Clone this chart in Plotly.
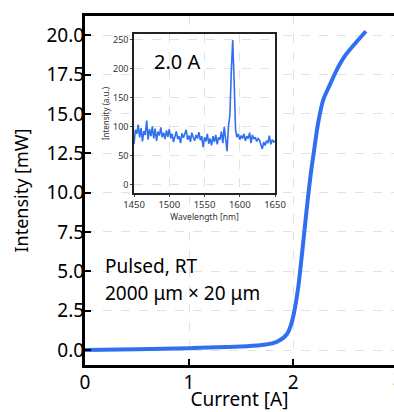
import plotly.graph_objects as go

# Main L-I data
current = [0, 0.5, 1.0, 1.5, 1.7, 1.8, 1.88, 1.94, 1.98, 2.01, 2.05, 2.10, 2.14, 2.17,
           2.20, 2.24, 2.29, 2.35, 2.42, 2.50, 2.60, 2.70]
power = [0, 0.05, 0.12, 0.22, 0.32, 0.42, 0.65, 1.0, 1.6, 2.4, 4.0, 7.0, 9.5, 11.2,
         12.6, 14.4, 15.9, 16.8, 17.8, 18.7, 19.5, 20.25]

# Inset spectrum data
wavelength = list(range(1450, 1652, 2))
spectrum = [70, 95, 88, 104, 82, 98, 75, 93, 86, 111, 78, 96, 84, 101, 80, 97, 76, 92, 85, 99,
            82, 90, 79, 94, 83, 96, 80, 88, 74, 86, 92, 79, 84, 72, 89, 81, 87, 95, 78, 85,
            74, 90, 82, 76, 86, 80, 91, 77, 84, 65, 82, 75, 88, 71, 80, 68, 84, 74, 86, 70,
            82, 78, 92, 72, 100, 80, 58, 102, 120, 195, 250, 180, 95, 82, 88, 78, 85, 80, 88, 76,
            84, 80, 90, 72, 86, 79, 82, 75, 80, 77, 70, 62, 74, 68, 76, 72, 85, 70, 78, 74, 76]

main_ticks_y = [0.0, 2.5, 5.0, 7.5, 10.0, 12.5, 15.0, 17.5, 20.0]
main_ticks_x = [0, 1, 2, 3]
inset_ticks_x = [1450, 1500, 1550, 1600, 1650]
inset_ticks_y = [0, 50, 100, 150, 200, 250]

BLUE = "#2f6ff0"
FONT = "Noto Sans"

fig = go.Figure()
fig.add_trace(go.Scatter(x=current, y=power, mode="lines", line=dict(color=BLUE, width=4, shape="spline", smoothing=0.6),
                         xaxis="x", yaxis="y", showlegend=False))
fig.add_trace(go.Scatter(x=wavelength, y=spectrum, mode="lines", line=dict(color=BLUE, width=1.6),
                         xaxis="x2", yaxis="y2", showlegend=False))

grid = dict(showgrid=True, gridcolor="#e2e2e2", griddash="dash", gridwidth=1, zeroline=False, automargin=False)

fig.update_layout(
    width=394, height=412,
    margin=dict(l=85, r=0, t=16, b=47),
    paper_bgcolor="white", plot_bgcolor="white",
    font=dict(family=FONT, color="black"),
    xaxis=dict(domain=[0, 1], range=[0, 2.97], tickvals=main_ticks_x,
               showline=True, linecolor="black", linewidth=3, mirror=True,
               ticks="inside", ticklen=6, tickwidth=1.5, tickcolor="black", ticklabelstandoff=-2,
               tickfont=dict(size=19), title=dict(text="Current [A]", font=dict(size=19), standoff=16), **grid),
    yaxis=dict(domain=[0, 1], range=[-0.95, 21.22], tickvals=main_ticks_y, tickformat=".1f",
               showline=True, linecolor="black", linewidth=3,
               ticks="inside", ticklen=6, tickwidth=1.5, tickcolor="black", ticklabelstandoff=-6,
               tickfont=dict(size=19), title=dict(text="Intensity [mW]", font=dict(size=18), standoff=14), **grid),
    xaxis2=dict(domain=[0.1586, 0.6149], anchor="y2", range=[1450, 1650], tickvals=inset_ticks_x,
                showline=True, linecolor="#222", linewidth=1.5, mirror=True,
                ticks="outside", ticklen=2, tickcolor="#444",
                tickfont=dict(size=9.5, color="#333"),
                title=dict(text="Wavelength [nm]", font=dict(size=8.5, color="#333"), standoff=1), **grid),
    yaxis2=dict(domain=[0.493, 0.948], anchor="x2", range=[-14, 260], tickvals=inset_ticks_y,
                showline=True, linecolor="#222", linewidth=1.5, mirror=True,
                ticks="outside", ticklen=2, tickcolor="#444",
                tickfont=dict(size=9, color="#333"),
                title=dict(text="Intensity (a.u.)", font=dict(size=8, color="#333"), standoff=2), **grid),
    shapes=[dict(type="rect", xref="x2 domain", yref="y2 domain", x0=0, x1=1, y0=0, y1=1,
                 fillcolor="white", line=dict(width=0), layer="below")],
    annotations=[
        dict(text="2.0 A", xref="x2 domain", yref="y2 domain", x=0.13, y=0.83, xanchor="left",
             yanchor="middle", showarrow=False, font=dict(size=20, color="black")),
        dict(text="Pulsed, RT", xref="paper", yref="paper", x=0.057, y=0.285, xanchor="left",
             yanchor="middle", showarrow=False, font=dict(size=19, color="black")),
        dict(text="2000 μm × 20 μm", xref="paper", yref="paper", x=0.057, y=0.207, xanchor="left",
             yanchor="middle", showarrow=False, font=dict(size=19, color="black")),
        dict(text="3", xref="paper", yref="paper", x=(398 - 85) / 309, y=0, yshift=-14, xanchor="center",
             yanchor="middle", showarrow=False, font=dict(size=19, color="black")),
    ],
)

fig.write_html("out.html", config={"displayModeBar": False},
               post_script="document.body.style.margin='0';")
